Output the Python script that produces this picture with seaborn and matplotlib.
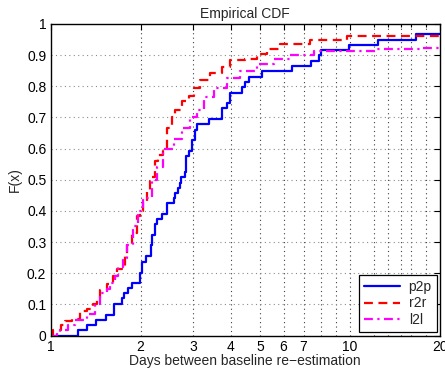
import matplotlib
matplotlib.use("Agg")
import matplotlib.pyplot as plt
import seaborn as sns
import numpy as np

# ---- data ----
p2p_x = [1, 1.236, 1.321, 1.416, 1.533, 1.631, 1.73, 1.765, 1.816, 1.869, 1.992, 2.028, 2.081,
         2.163, 2.19, 2.225, 2.266, 2.354, 2.447, 2.575, 2.609, 2.656, 2.711, 2.733, 2.803, 2.833,
         2.89, 2.967, 3.027, 3.083, 3.372, 3.737, 3.885, 3.985, 4.36, 4.47, 4.586, 5.087, 6.41,
         7.43, 7.865, 8.03, 9.91, 12.43, 16.56, 20]
p2p_F = [0, 0.017, 0.034, 0.05, 0.067, 0.10, 0.12, 0.135, 0.153, 0.17, 0.20, 0.237, 0.254,
         0.29, 0.323, 0.357, 0.373, 0.39, 0.424, 0.44, 0.457, 0.475, 0.49, 0.508, 0.525, 0.576,
         0.593, 0.627, 0.661, 0.678, 0.695, 0.729, 0.746, 0.78, 0.797, 0.815, 0.83, 0.848, 0.865,
         0.882, 0.90, 0.915, 0.933, 0.95, 0.967, 0.967]

r2r_x = [1, 1.022, 1.084, 1.118, 1.177, 1.255, 1.328, 1.39, 1.427, 1.464, 1.542, 1.622, 1.665,
         1.73, 1.775, 1.807, 1.869, 1.943, 1.992, 2.044, 2.098, 2.152, 2.18, 2.237, 2.294, 2.384,
         2.447, 2.543, 2.609, 2.747, 2.89, 3.004, 3.162, 3.416, 3.737, 3.985, 4.47, 4.88, 5.285,
         5.855, 7.38, 9.79, 20]
r2r_F = [0, 0.017, 0.034, 0.047, 0.052, 0.079, 0.085, 0.10, 0.12, 0.146, 0.165, 0.19, 0.213,
         0.22, 0.255, 0.29, 0.33, 0.385, 0.40, 0.43, 0.46, 0.497, 0.51, 0.559, 0.58, 0.602,
         0.666, 0.703, 0.725, 0.752, 0.768, 0.795, 0.821, 0.843, 0.862, 0.885, 0.888, 0.905, 0.92,
         0.937, 0.948, 0.963, 0.963]

l2l_x = [1, 1.049, 1.076, 1.147, 1.208, 1.321, 1.409, 1.464, 1.542, 1.581, 1.643, 1.686, 1.752,
         1.798, 1.892, 1.966, 2.044, 2.18, 2.266, 2.384, 2.575, 2.747, 2.928, 3.083, 3.244, 3.503,
         3.885, 4.302, 4.894, 5.563, 6.324, 7.566, 12.33, 17.21, 20]
l2l_F = [0, 0.008, 0.017, 0.034, 0.05, 0.068, 0.10, 0.135, 0.15, 0.17, 0.19, 0.22, 0.25,
         0.29, 0.35, 0.40, 0.44, 0.50, 0.54, 0.60, 0.63, 0.666, 0.703, 0.725, 0.765, 0.795,
         0.827, 0.848, 0.87, 0.886, 0.899, 0.913, 0.92, 0.923, 0.923]

series_names = ["p2p", "r2r", "l2l"]
xtick_vals = [1, 2, 3, 4, 5, 6, 7, 10, 20]
ytick_vals = [0, 0.1, 0.2, 0.3, 0.4, 0.5, 0.6, 0.7, 0.8, 0.9, 1]

# ---- style ----
sns.set_style("white")
plt.rcParams["font.family"] = ["Liberation Sans", "DejaVu Sans"]
plt.rcParams["font.size"] = 9

fig = plt.figure(figsize=(4.45, 3.73), dpi=100)
ax = fig.add_axes([0.1135, 0.1005, 0.8755, 0.8352])

styles = [("#0000ff", "-"), ("#ff0000", (0, (4, 2.5))), ("#ff00ff", (0, (4, 2, 1, 2)))]
for (xs, fs), name, (c, ls) in zip([(p2p_x, p2p_F), (r2r_x, r2r_F), (l2l_x, l2l_F)],
                                   series_names, styles):
    sns.lineplot(x=xs, y=fs, ax=ax, color=c, linestyle=ls, linewidth=1.6,
                 drawstyle="steps-post", estimator=None, sort=False, label=name)

ax.set_xscale("log")
ax.set_xlim(1, 20)
ax.set_ylim(0, 1)

grid_x = [2, 3, 4, 5, 6, 7, 8, 9, 10, 12, 13.4, 14.8, 16, 18]
for gx in grid_x:
    ax.axvline(gx, color="0.25", linestyle=(0, (1, 3)), linewidth=0.8, zorder=0)
for gy in ytick_vals[1:-1]:
    ax.axhline(gy, color="0.55", linestyle=(0, (1, 3)), linewidth=0.8, zorder=0)

ax.xaxis.set_minor_locator(matplotlib.ticker.FixedLocator(grid_x))
ax.xaxis.set_minor_formatter(matplotlib.ticker.NullFormatter())
ax.set_xticks(xtick_vals)
ax.set_xticklabels([str(v) for v in xtick_vals])
ax.set_yticks(ytick_vals)
ax.set_yticklabels(["0"] + [f"{v:g}" for v in ytick_vals[1:-1]] + ["1"])

ax.tick_params(which="both", direction="in", top=True, right=True, length=4, width=0.8,
               labelsize=10, pad=3, colors="black")
ax.tick_params(which="minor", length=2.5)
for s in ax.spines.values():
    s.set_color("black")
    s.set_linewidth(1.0)

ax.set_title("Empirical CDF", fontsize=10, pad=4)
ax.set_xlabel("Days between baseline re\u2212estimation", fontsize=10, labelpad=0)
ax.set_ylabel("F(x)", fontsize=10, labelpad=4)

leg = ax.legend(loc="lower right", fontsize=10, frameon=True, fancybox=False, framealpha=1,
                edgecolor="black", borderaxespad=0.25, handlelength=2.6, handletextpad=0.6,
                labelspacing=0.2, borderpad=0.35)
leg.get_frame().set_linewidth(0.9)

fig.savefig("out.png", dpi=100)
